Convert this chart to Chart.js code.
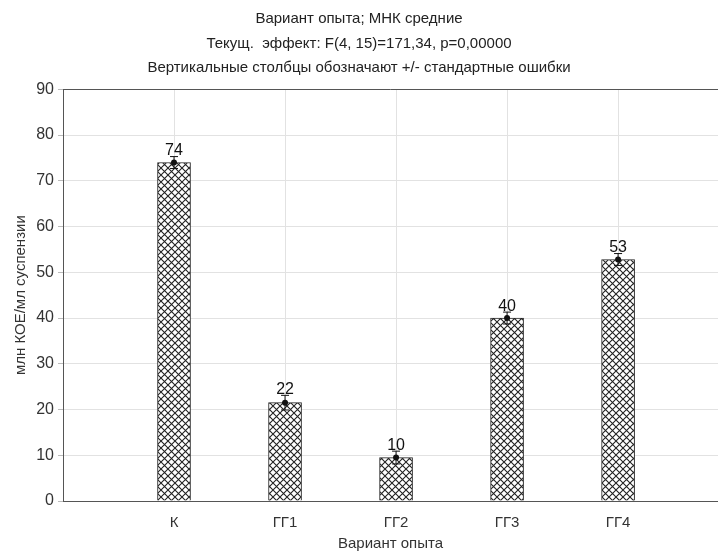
<!DOCTYPE html>
<html>
<head>
<meta charset="utf-8">
<script src="https://cdn.jsdelivr.net/npm/chart.js@4"></script>
<style>
  html, body { margin: 0; padding: 0; background: #fff; overflow: hidden; }
  #wrap { width: 718px; height: 553px; }
</style>
</head>
<body>
<div id="wrap"><canvas id="chart" width="718" height="553"></canvas></div>
<script>
// データ
var categories = ['К', 'ГГ1', 'ГГ2', 'ГГ3', 'ГГ4'];
var means = [74, 21.5, 9.5, 40, 52.8];
var stdErrors = [1.3, 1.6, 1.4, 1.3, 1.3];
var valueLabels = ['74', '22', '10', '40', '53'];
var yTicks = [0, 10, 20, 30, 40, 50, 60, 70, 80, 90];
var titleLines = [
  'Вариант опыта; МНК средние',
  'Текущ.  эффект: F(4, 15)=171,34, p=0,00000',
  'Вертикальные столбцы обозначают +/- стандартные ошибки'
];

var FONT = '"Liberation Sans", Arial, sans-serif';

// クロスハッチのパターン
function makeHatch() {
  var size = 7;
  var c = document.createElement('canvas');
  c.width = size; c.height = size;
  var g = c.getContext('2d');
  g.fillStyle = '#fff';
  g.fillRect(0, 0, size, size);
  g.strokeStyle = '#222';
  g.lineWidth = 1.1;
  g.beginPath();
  g.moveTo(0, 0); g.lineTo(size, size);
  g.moveTo(size, 0); g.lineTo(0, size);
  g.stroke();
  return document.getElementById('chart').getContext('2d').createPattern(c, 'repeat');
}

// 上枠線・誤差棒・平均点・数値ラベル
var extrasPlugin = {
  id: 'extras',
  afterDatasetsDraw: function(chart) {
    var ctx = chart.ctx;
    var xs = chart.scales.x, ys = chart.scales.y;
    var area = chart.chartArea;
    ctx.save();
    ctx.strokeStyle = '#555';
    ctx.lineWidth = 1;
    ctx.beginPath();
    ctx.moveTo(area.left, Math.round(area.top) + 0.5);
    ctx.lineTo(area.right, Math.round(area.top) + 0.5);
    ctx.stroke();

    ctx.strokeStyle = '#111';
    ctx.fillStyle = '#111';
    means.forEach(function(m, i) {
      var x = xs.getPixelForValue(i + 1);
      var yTop = ys.getPixelForValue(m + stdErrors[i]);
      var yBot = ys.getPixelForValue(m - stdErrors[i]);
      var yMid = ys.getPixelForValue(m);
      ctx.beginPath();
      ctx.moveTo(x, yTop); ctx.lineTo(x, yBot);
      ctx.moveTo(x - 4, yTop); ctx.lineTo(x + 4, yTop);
      ctx.moveTo(x - 4, yBot); ctx.lineTo(x + 4, yBot);
      ctx.stroke();
      ctx.beginPath();
      ctx.arc(x, yMid, 3, 0, Math.PI * 2);
      ctx.fill();

      ctx.font = '16px ' + FONT;
      ctx.textAlign = 'center';
      ctx.textBaseline = 'bottom';
      ctx.fillText(valueLabels[i], x, yTop + 2);
    });
    ctx.restore();
  }
};

var chart = new Chart(document.getElementById('chart'), {
  type: 'bar',
  data: {
    datasets: [{
      data: categories.map(function(c, i) { return { x: i + 1, y: means[i] }; }),
      backgroundColor: makeHatch(),
      borderColor: '#222',
      borderWidth: 1,
      barThickness: 33
    }]
  },
  options: {
    responsive: false,
    animation: false,
    layout: { padding: { left: 0, right: 0, top: 7, bottom: 0 } },
    plugins: {
      legend: { display: false },
      tooltip: { enabled: false },
      title: {
        display: true,
        text: titleLines,
        color: '#222',
        font: { family: FONT, size: 15, weight: 'normal', lineHeight: 1.63 },
        padding: { top: 0, bottom: 9 }
      }
    },
    scales: {
      x: {
        type: 'linear',
        offset: false,
        min: 0,
        max: 5.9,
        afterBuildTicks: function(scale) {
          scale.ticks = categories.map(function(c, i) { return { value: i + 1 }; });
        },
        afterFit: function(scale) { scale.height = 52; },
        ticks: {
          callback: function(v) { return categories[v - 1]; },
          color: '#333',
          font: { family: FONT, size: 15 },
          padding: 13,
          maxRotation: 0,
          autoSkip: false
        },
        grid: { color: '#e2e2e2', drawTicks: false, offset: false },
        border: { color: '#555', width: 1 },
        title: {
          display: true,
          text: 'Вариант опыта',
          color: '#333',
          font: { family: FONT, size: 15 },
          padding: { top: 1, bottom: 0 }
        }
      },
      y: {
        min: 0,
        max: 90,
        afterBuildTicks: function(scale) {
          scale.ticks = yTicks.map(function(v) { return { value: v }; });
        },
        afterFit: function(scale) { scale.width = 63; },
        ticks: {
          color: '#333',
          font: { family: FONT, size: 16 },
          padding: 4
        },
        grid: { color: '#e2e2e2', drawTicks: true, tickLength: 5, tickColor: '#bbb' },
        border: { color: '#555', width: 1 },
        title: {
          display: true,
          text: 'млн КОЕ/мл суспензии',
          color: '#333',
          font: { family: FONT, size: 15 },
          padding: { top: 12, bottom: 0 }
        }
      }
    }
  },
  plugins: [extrasPlugin]
});
</script>
</body>
</html>
